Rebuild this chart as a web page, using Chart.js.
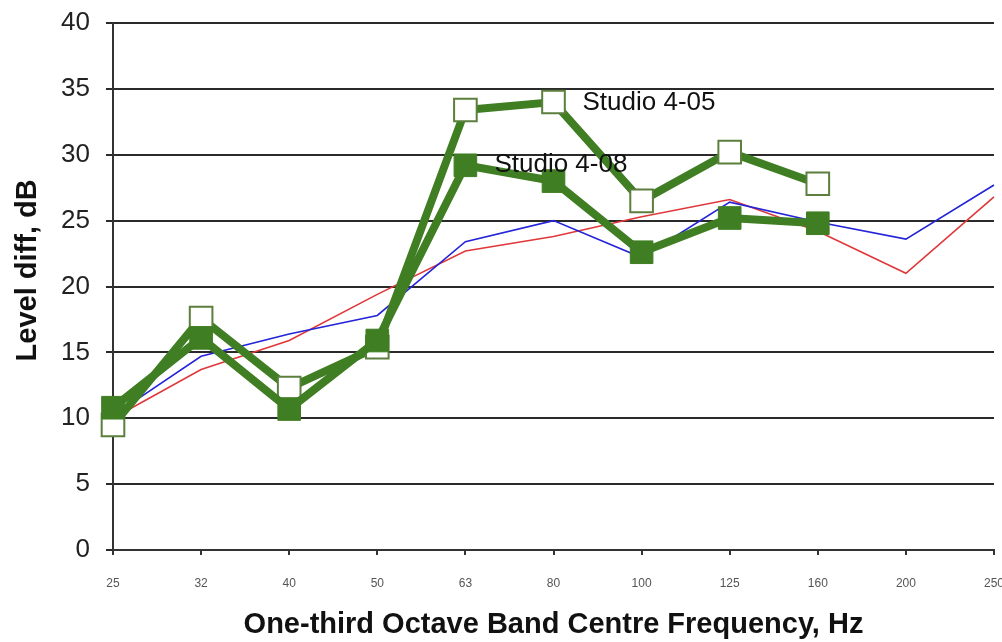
<!DOCTYPE html>
<html>
<head>
<meta charset="utf-8">
<script src="https://cdn.jsdelivr.net/npm/chart.js@4/dist/chart.umd.min.js"></script>
<style>
  html, body { margin: 0; padding: 0; background: #fff; overflow: hidden; }
</style>
</head>
<body>
<canvas id="myChart" width="1012" height="642"></canvas>
<script>
// one-third octave band centres, Hz
var bands = ['25', '32', '40', '50', '63', '80', '100', '125', '160', '200', '250'];

// level difference, dB
var studio405 = [9.5, 17.6, 12.3, 15.4, 33.4, 34.0, 26.5, 30.2, 27.8, null, null];
var studio408 = [10.8, 16.1, 10.7, 15.9, 29.2, 28.0, 22.6, 25.2, 24.8, null, null];
var blueLine = [10.2, 14.7, 16.4, 17.8, 23.4, 25.0, 22.2, 26.4, 24.9, 23.6, 27.7];
var redLine = [10.0, 13.7, 15.9, 19.4, 22.7, 23.8, 25.3, 26.6, 24.2, 21.0, 26.8];

var yTicks = [0, 5, 10, 15, 20, 25, 30, 35, 40];

var green = '#3f7e22';
var font = "'Liberation Sans', Arial, sans-serif";

// text labels next to the studio curves
var seriesLabels = {
  id: 'seriesLabels',
  afterDatasetsDraw: function (chart) {
    var ctx = chart.ctx;
    var x = chart.scales.x, y = chart.scales.y;
    ctx.save();
    ctx.font = '26px ' + font;
    ctx.fillStyle = '#111';
    ctx.textBaseline = 'middle';
    ctx.textAlign = 'left';
    ctx.fillText('Studio 4-05', x.getPixelForValue(5) + 29, y.getPixelForValue(studio405[5]) + 1);
    ctx.fillText('Studio 4-08', x.getPixelForValue(4) + 29, y.getPixelForValue(studio408[4]));
    ctx.restore();
  }
};

var ctx = document.getElementById('myChart').getContext('2d');
var myChart = new Chart(ctx, {
  type: 'line',
  data: {
    labels: bands,
    datasets: [{
      label: 'Studio 4-08',
      data: studio408,
      borderColor: green,
      backgroundColor: green,
      borderWidth: 8,
      pointStyle: 'rect',
      pointRadius: 16,
      pointBorderWidth: 1,
      pointBorderColor: green,
      pointBackgroundColor: green,
      order: 0
    }, {
      label: 'Studio 4-05',
      data: studio405,
      borderColor: green,
      backgroundColor: '#fff',
      borderWidth: 8,
      pointStyle: 'rect',
      pointRadius: 16,
      pointBorderWidth: 2,
      pointBorderColor: '#5b7f3c',
      pointBackgroundColor: '#fff',
      order: 1
    }, {
      label: 'blue',
      data: blueLine,
      borderColor: '#2424d8',
      borderWidth: 1.6,
      pointRadius: 0,
      order: 2
    }, {
      label: 'red',
      data: redLine,
      borderColor: '#e0383a',
      borderWidth: 1.6,
      pointRadius: 0,
      order: 3
    }]
  },
  options: {
    responsive: false,
    animation: false,
    layout: { padding: { top: 23, right: 8, bottom: 0, left: 0 } },
    plugins: {
      legend: { display: false },
      tooltip: { enabled: false }
    },
    scales: {
      x: {
        offset: false,
        grid: { drawOnChartArea: false, drawTicks: true, tickLength: 5, color: '#333', lineWidth: 2 },
        border: { display: true, color: '#333', width: 2 },
        ticks: { color: '#555', padding: 21, maxRotation: 0, autoSkip: false, font: { size: 12, family: font } },
        title: { display: true, text: 'One-third Octave Band Centre Frequency, Hz', color: '#111', padding: { top: 0, bottom: 0 }, font: { size: 29, weight: 'bold', family: font } },
        afterFit: function (scale) { scale.height = 92; scale.paddingLeft = 0; scale.paddingRight = 0; }
      },
      y: {
        min: 0,
        max: 40,
        afterBuildTicks: function (scale) { scale.ticks = yTicks.map(function (v) { return { value: v }; }); },
        grid: { color: '#2a2a2a', lineWidth: 2, tickLength: 7 },
        border: { display: true, color: '#333', width: 2 },
        ticks: { color: '#222', padding: 16, font: { size: 26, family: font } },
        // leading spaces lift the title a little above the axis centre, as in the original
        title: { display: true, text: '    Level diff, dB', color: '#111', padding: { top: 11, bottom: 0 }, font: { size: 29, weight: 'bold', family: font } },
        afterFit: function (scale) { scale.width = 113; scale.paddingTop = 0; scale.paddingBottom = 0; }
      }
    }
  },
  plugins: [seriesLabels]
});
</script>
</body>
</html>
